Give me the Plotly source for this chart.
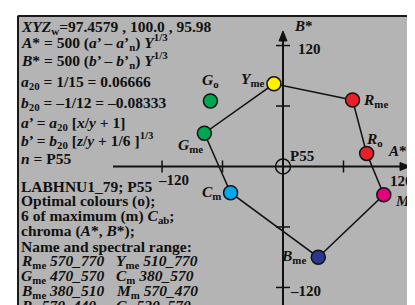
import plotly.graph_objects as go

# ---- data (A*, B*) ----
letters = ["R", "R", "M", "B", "C", "G", "Y", "G"]
subs = ["me", "o", "m", "me", "m", "me", "me", "o"]
A_vals = [69, 83, 100, 35, -52, -78, -9, -72]
B_vals = [66, 13, -28, -90, -26, 33, 82, 65]
colors = ["#e8202a", "#e8202a", "#e5007d", "#2b3592", "#00a9ec", "#00a651", "#ffef00", "#00a651"]
polygon_order = [0, 1, 2, 3, 4, 5, 6, 0]   # G_o is not connected
tick_vals = [-120, -60, 60, 120]

block1 = [
    "<i>XYZ</i><sub>w</sub>=97.4579 , 100.0 , 95.98",
    "<i>A</i>* = 500 (<i>a</i>’ – <i>a</i>’<sub>n</sub>) <i>Y</i><sup>1/3</sup>",
    "<i>B</i>* = 500 (<i>b</i>’ – <i>b</i>’<sub>n</sub>) <i>Y</i><sup>1/3</sup>",
    "<i>a</i><sub>20</sub> = 1/15 = 0.06666",
    "<i>b</i><sub>20</sub> = –1/12 = –0.08333",
    "<i>a</i>’ = <i>a</i><sub>20</sub> [<i>x</i>/<i>y</i> + 1]",
    "<i>b</i>’ = <i>b</i><sub>20</sub> [<i>z</i>/<i>y</i> + 1/6 ]<sup>1/3</sup>",
    "<i>n</i> = P55",
]
block2 = [
    "LABHNU1_79; P55",
    "Optimal colours (o);",
    "6 of maximum (m) <i>C</i><sub>ab</sub>;",
    "chroma (<i>A</i>*, <i>B</i>*);",
    "Name and spectral range:",
]
range_col1 = ["<i>R</i><sub>me</sub> <i>570_770</i>", "<i>G</i><sub>me</sub> <i>470_570</i>",
              "<i>B</i><sub>me</sub> <i>380_510</i>", "<i>R</i><sub>o</sub> <i>570_440</i>"]
range_col2 = ["<i>Y</i><sub>me</sub> <i>510_770</i>", "<i>C</i><sub>m</sub> <i>380_570</i>",
              "<i>M</i><sub>m</sub> <i>570_470</i>", "<i>G</i><sub>o</sub> <i>520_570</i>"]

# ---- layout helpers (pixel -> data) ----
W, H = 415, 305
L, T = 9, 7
X0, Y0, S = 275, 158.5, 1.008
def dx(px): return (px - X0) / S
def dy(py): return (Y0 - py) / S

FONT = "Liberation Serif"
BLACK = "#111111"

fig = go.Figure()

# polygon
fig.add_trace(go.Scatter(
    x=[A_vals[i] for i in polygon_order], y=[B_vals[i] for i in polygon_order],
    mode="lines", line=dict(color=BLACK, width=1.5), hoverinfo="skip", showlegend=False))
# markers
fig.add_trace(go.Scatter(
    x=A_vals, y=B_vals, mode="markers",
    marker=dict(size=14, color=colors, line=dict(color=BLACK, width=1.5)),
    showlegend=False, hoverinfo="skip"))

shapes = []
# frame lines
shapes.append(dict(type="line", xref="x", yref="y", x0=dx(10), x1=dx(W), y0=dy(8), y1=dy(8),
                   line=dict(color="#1a1a1a", width=2)))
shapes.append(dict(type="line", xref="x", yref="y", x0=dx(10), x1=dx(10), y0=dy(8), y1=dy(H),
                   line=dict(color="#1a1a1a", width=2)))
# axes
shapes.append(dict(type="line", x0=dx(105), x1=dx(396), y0=0, y1=0, line=dict(color=BLACK, width=2)))
shapes.append(dict(type="line", x0=0, x1=0, y0=dy(300), y1=dy(29), line=dict(color=BLACK, width=2)))
# arrowheads
shapes.append(dict(type="path",
                   path=f"M {dx(402)},0 L {dx(392)},{4/S} L {dx(392)},{-4/S} Z",
                   fillcolor=BLACK, line=dict(color=BLACK, width=1)))
shapes.append(dict(type="path",
                   path=f"M 0,{dy(23)} L {4/S},{dy(33)} L {-4/S},{dy(33)} Z",
                   fillcolor=BLACK, line=dict(color=BLACK, width=1)))
# ticks
for t in tick_vals:
    if t < 120:
        shapes.append(dict(type="line", x0=t, x1=t, y0=-6 / S, y1=6 / S, line=dict(color=BLACK, width=1.5)))
    shapes.append(dict(type="line", x0=-7 / S, x1=7 / S, y0=t, y1=t, line=dict(color=BLACK, width=1.5)))
# origin circle
shapes.append(dict(type="circle", x0=-7.5 / S, x1=7.5 / S, y0=-7.5 / S, y1=7.5 / S,
                   line=dict(color=BLACK, width=1.5)))

ann = []
def txt(px, py, text, anchor="left", size=15):
    ann.append(dict(x=dx(px), y=dy(py), xref="x", yref="y", text="<b>" + text + "</b>",
                    showarrow=False, xanchor=anchor, yanchor="middle", borderpad=0,
                    font=dict(family=FONT, size=size, color=BLACK)))

# axis labels
txt(295, 18, "<i>B</i>*", "center")
txt(289, 41, "120")
txt(379, 143, "<i>A</i>*")
txt(381, 173, "120")
txt(281, 283, "–120")
txt(149, 172, "–120")
txt(281, 148, "P55")

# point labels (pixel offsets from the marker)
label_off = [(9, 1, "left"), (-2, -14, "left"), (10, 7, "left"), (-11, -1, "right"),
             (-9, 0, "right"), (0, 12, "right"), (-8, -4, "right"), (0, -20, "center")]
for i, (ox, oy, anc) in enumerate(label_off):
    px = X0 + A_vals[i] * S + ox
    py = Y0 - B_vals[i] * S + oy
    txt(px, py, f"<i>{letters[i]}</i><sub>{subs[i]}</sub>", anc, 15.5)

# text blocks
BS = 15.5
y1 = [19, 34, 52, 74, 95, 115, 132, 150]
for yy, line in zip(y1, block1):
    txt(12, yy, line, size=BS)
y2 = [178, 193, 208, 223, 238]
for yy, line in zip(y2, block2):
    txt(12, yy, line, size=BS)
y3 = [253, 268, 283, 298]
for yy, a, b in zip(y3, range_col1, range_col2):
    txt(12, yy, a, size=BS)
    txt(107, yy, b, size=BS)

fig.update_layout(
    width=W, height=H,
    margin=dict(l=L, r=0, t=T, b=0),
    paper_bgcolor="white", plot_bgcolor="#b4b4b4",
    xaxis=dict(range=[dx(L), dx(W)], visible=False, fixedrange=True),
    yaxis=dict(range=[dy(H), dy(T)], visible=False, fixedrange=True),
    shapes=shapes, annotations=ann, showlegend=False,
)
fig.write_html("out.html")
